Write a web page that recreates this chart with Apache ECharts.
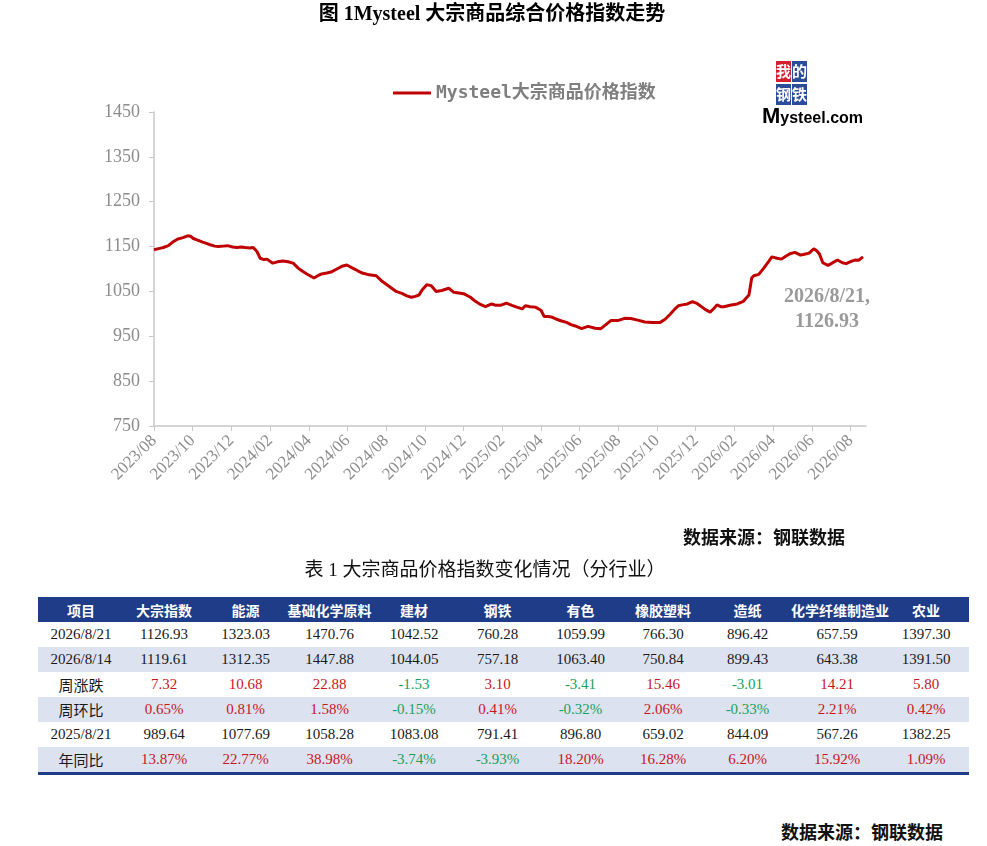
<!DOCTYPE html>
<html>
<head>
<meta charset="utf-8">
<title>Mysteel 大宗商品价格指数</title>
<script src="https://cdn.jsdelivr.net/npm/echarts@6/dist/echarts.min.js"></script>
<style>
body { margin: 0; background: #fff; }
#page { position: relative; width: 987px; height: 846px; overflow: hidden; }
#main { position: absolute; left: 0; top: 0; width: 987px; height: 560px; }
#tblTitle { position: absolute; left: 0; top: 557px; width: 970px; text-align: center;
	font: 19px "Liberation Serif", "Noto Sans CJK SC", serif; line-height: 26px; color: #111; }
#tbl { position: absolute; left: 38px; top: 597px; width: 931px; border-collapse: collapse;
	table-layout: fixed; border-bottom: 3px solid #1f3c88; }
#tbl th { background: #1f3c88; color: #fff; height: 25px; padding: 0; white-space: nowrap; overflow: visible;
	font: bold 14px "Noto Sans CJK SC", sans-serif; }
#tbl td { height: 25px; padding: 0; text-align: center; color: #1a1a1a; white-space: nowrap;
	font: 15px "Liberation Serif", "Noto Sans CJK SC", serif; }
#tbl tr.alt td { background: #dde2f1; }
#src2 { position: absolute; right: 44px; top: 818px; font: bold 18px "Noto Sans CJK SC", sans-serif; color: #111; }
</style>
</head>
<body>
<div id="page">
	<div id="main"></div>
	<div id="tblTitle">表 1 大宗商品价格指数变化情况（分行业）</div>
	<table id="tbl"></table>
	<div id="src2">数据来源：钢联数据</div>
</div>
<script>
// 指数走势
var dates = [
	'2023-08-01', '2023-08-04', '2023-08-10', '2023-08-16', '2023-08-24', '2023-08-31',
	'2023-09-08', '2023-09-16', '2023-09-23', '2023-09-28', '2023-10-02', '2023-10-10',
	'2023-10-17', '2023-10-23', '2023-10-29', '2023-11-05', '2023-11-11', '2023-11-18',
	'2023-11-25', '2023-12-03', '2023-12-10', '2023-12-17', '2023-12-23', '2023-12-30',
	'2024-01-05', '2024-01-11', '2024-01-16', '2024-01-22', '2024-01-27', '2024-02-05',
	'2024-02-12', '2024-02-20', '2024-02-28', '2024-03-07', '2024-03-15', '2024-03-22',
	'2024-03-29', '2024-04-09', '2024-04-15', '2024-04-21', '2024-04-29', '2024-05-07',
	'2024-05-15', '2024-05-23', '2024-05-31', '2024-06-09', '2024-06-17', '2024-06-24',
	'2024-07-05', '2024-07-16', '2024-07-26', '2024-08-06', '2024-08-17', '2024-08-27',
	'2024-09-03', '2024-09-10', '2024-09-16', '2024-09-22', '2024-09-27', '2024-10-04',
	'2024-10-11', '2024-10-19', '2024-10-28', '2024-11-08', '2024-11-16', '2024-12-01',
	'2024-12-12', '2024-12-20', '2024-12-28', '2025-01-05', '2025-01-15', '2025-01-22',
	'2025-01-29', '2025-02-07', '2025-02-15', '2025-02-22', '2025-03-02', '2025-03-07',
	'2025-03-15', '2025-03-23', '2025-04-01', '2025-04-06', '2025-04-12', '2025-04-17',
	'2025-04-25', '2025-05-03', '2025-05-11', '2025-05-18', '2025-05-25', '2025-06-04',
	'2025-06-14', '2025-06-25', '2025-07-04', '2025-07-12', '2025-07-20', '2025-07-31',
	'2025-08-11', '2025-08-21', '2025-09-01', '2025-09-12', '2025-09-24', '2025-10-06',
	'2025-10-14', '2025-10-22', '2025-10-29', '2025-11-04', '2025-11-10', '2025-11-18',
	'2025-11-26', '2025-12-02', '2025-12-07', '2025-12-16', '2025-12-24', '2025-12-30',
	'2026-01-04', '2026-01-10', '2026-01-15', '2026-01-25', '2026-02-05', '2026-02-14',
	'2026-02-22', '2026-02-26', '2026-03-01', '2026-03-09', '2026-03-17', '2026-03-25',
	'2026-03-30', '2026-04-07', '2026-04-14', '2026-04-20', '2026-04-27', '2026-05-05',
	'2026-05-14', '2026-05-20', '2026-05-27', '2026-06-04', '2026-06-09', '2026-06-13',
	'2026-06-18', '2026-06-26', '2026-07-01', '2026-07-11', '2026-07-19', '2026-07-25',
	'2026-08-04', '2026-08-09', '2026-08-14', '2026-08-21'
];
var values = [
	1143, 1145, 1146, 1148, 1152, 1160,
	1167, 1170, 1174, 1173, 1168, 1164,
	1160, 1157, 1154, 1151, 1150, 1151,
	1152, 1149, 1148, 1149, 1148, 1147,
	1148, 1139, 1124, 1121, 1122, 1113,
	1116, 1118, 1116, 1113, 1102, 1095,
	1089, 1080, 1085, 1089, 1091, 1094,
	1100, 1106, 1109, 1102, 1096, 1091,
	1087, 1085, 1072, 1061, 1050, 1045,
	1040, 1037, 1039, 1042, 1054, 1065,
	1063, 1050, 1052, 1057, 1048, 1045,
	1037, 1028, 1021, 1016, 1022, 1019,
	1019, 1024, 1019, 1015, 1011, 1018,
	1016, 1015, 1008, 994, 994, 993,
	988, 984, 981, 976, 973, 967,
	972, 968, 967, 976, 985, 985,
	990, 989.64, 986, 982, 981, 981,
	988, 999, 1010, 1018, 1020, 1022,
	1027, 1024, 1019, 1010, 1004, 1012,
	1020, 1016, 1016, 1019, 1022, 1028,
	1042, 1080, 1085, 1088, 1102, 1117,
	1127, 1124, 1122, 1128, 1134, 1137,
	1131, 1133, 1135, 1145, 1140, 1133,
	1114, 1108, 1112, 1120, 1114, 1112,
	1118, 1120, 1119.61, 1126.93
];
var startYear = 2023, startMonth = 8;
var yMin = 750, yMax = 1450, yStep = 100;
var xStep = 2, xMax = 36.8;
var seriesName = 'Mysteel大宗商品价格指数';

// 表1 数据
var tableHeader = ['项目', '大宗指数', '能源', '基础化学原料', '建材', '钢铁', '有色', '橡胶塑料', '造纸', '化学纤维制造业', '农业'];
var rowNames = ['2026/8/21', '2026/8/14', '周涨跌', '周环比', '2025/8/21', '年同比'];
var rowThisWeek = ['1126.93', '1323.03', '1470.76', '1042.52', '760.28', '1059.99', '766.30', '896.42', '657.59', '1397.30'];
var rowLastWeek = ['1119.61', '1312.35', '1447.88', '1044.05', '757.18', '1063.40', '750.84', '899.43', '643.38', '1391.50'];
var rowWeekChg = ['7.32', '10.68', '22.88', '-1.53', '3.10', '-3.41', '15.46', '-3.01', '14.21', '5.80'];
var rowWeekPct = ['0.65%', '0.81%', '1.58%', '-0.15%', '0.41%', '-0.32%', '2.06%', '-0.33%', '2.21%', '0.42%'];
var rowLastYear = ['989.64', '1077.69', '1058.28', '1083.08', '791.41', '896.80', '659.02', '844.09', '567.26', '1382.25'];
var rowYearPct = ['13.87%', '22.77%', '38.98%', '-3.74%', '-3.93%', '18.20%', '16.28%', '6.20%', '15.92%', '1.09%'];
var colWidths = [86, 80, 83, 85, 84, 83, 83, 82, 87, 92, 86];

function monthOffset(s) {
	var p = s.split('-');
	var y = +p[0], m = +p[1], d = +p[2];
	var dim = new Date(y, m, 0).getDate();
	return (y - startYear) * 12 + (m - startMonth) + (d - 1) / dim;
}

function monthLabel(v) {
	var r = Math.round(v);
	if (Math.abs(v - r) > 1e-6 || r % xStep) return '';
	var k = startMonth - 1 + r;
	var mo = k % 12 + 1;
	return (startYear + Math.floor(k / 12)) + '/' + (mo < 10 ? '0' : '') + mo;
}

var serif = '"Liberation Serif", "Times New Roman", serif';
var lineData = dates.map(function(d, i) { return [monthOffset(d), values[i]]; });
var lastDate = dates[dates.length - 1].split('-');
var lastLabel = lastDate[0] + '/' + (+lastDate[1]) + '/' + (+lastDate[2]) + ',\n' + values[values.length - 1].toFixed(2);

var myChart = echarts.init(document.getElementById('main'));
var option = {
	animation: false,
	title: {
		text: '图 1Mysteel 大宗商品综合价格指数走势',
		left: 487,
		top: 0,
		textAlign: 'center',
		textStyle: {
			fontFamily: '"Liberation Serif", "Noto Sans CJK SC", serif',
			fontWeight: 'bold',
			fontSize: 20,
			color: '#000'
		}
	},
	legend: {
		left: 388,
		top: 79,
		icon: 'rect',
		itemWidth: 38,
		itemHeight: 3,
		data: [seriesName],
		textStyle: {
			fontFamily: '"DejaVu Sans Mono", "Noto Sans CJK SC", monospace',
			fontSize: 18,
			fontWeight: 'bold',
			color: '#7f7f7f'
		}
	},
	grid: { left: 154, top: 112, right: 121, bottom: 134 },
	xAxis: {
		type: 'value',
		min: 0,
		max: xMax,
		interval: xStep,
		splitLine: { show: false },
		axisLine: { lineStyle: { color: '#c8c8c8', width: 1.5 } },
		axisTick: { length: 5, lineStyle: { color: '#c8c8c8' } },
		axisLabel: {
			rotate: 45,
			margin: 12,
			showMaxLabel: false,
			color: '#8c8c8c',
			fontFamily: serif,
			fontSize: 17,
			formatter: monthLabel
		}
	},
	yAxis: {
		type: 'value',
		min: yMin,
		max: yMax,
		interval: yStep,
		splitLine: { show: false },
		axisLine: { show: true, lineStyle: { color: '#c8c8c8', width: 1.5 } },
		axisTick: { show: true, length: 5, lineStyle: { color: '#c8c8c8' } },
		axisLabel: {
			margin: 14,
			color: '#8c8c8c',
			fontFamily: serif,
			fontSize: 18,
			formatter: function(v) { return String(v); }
		}
	},
	series: [{
		name: seriesName,
		type: 'line',
		data: lineData,
		symbol: 'none',
		showSymbol: false,
		lineStyle: { color: '#c00000', width: 3 },
		itemStyle: { color: '#c00000' }
	}],
	graphic: [
		{ type: 'rect', shape: { x: 776, y: 61, width: 15, height: 21 }, style: { fill: '#d3202f' } },
		{ type: 'rect', shape: { x: 792, y: 61, width: 15, height: 21 }, style: { fill: '#2b4c96' } },
		{ type: 'rect', shape: { x: 776, y: 84, width: 15, height: 21 }, style: { fill: '#2b4c96' } },
		{ type: 'rect', shape: { x: 792, y: 84, width: 15, height: 21 }, style: { fill: '#2b4c96' } },
		{ type: 'text', x: 783.5, y: 71.5, style: { text: '我', fill: '#fff', font: 'bold 15px "Noto Sans CJK SC"', textAlign: 'center', textVerticalAlign: 'middle' } },
		{ type: 'text', x: 799.5, y: 71.5, style: { text: '的', fill: '#fff', font: 'bold 15px "Noto Sans CJK SC"', textAlign: 'center', textVerticalAlign: 'middle' } },
		{ type: 'text', x: 783.5, y: 94.5, style: { text: '钢', fill: '#fff', font: 'bold 15px "Noto Sans CJK SC"', textAlign: 'center', textVerticalAlign: 'middle' } },
		{ type: 'text', x: 799.5, y: 94.5, style: { text: '铁', fill: '#fff', font: 'bold 15px "Noto Sans CJK SC"', textAlign: 'center', textVerticalAlign: 'middle' } },
		{
			type: 'text', x: 762, y: 117,
			style: {
				text: '{m|M}{r|ysteel.com}',
				textVerticalAlign: 'middle',
				rich: {
					m: { fontSize: 22, fontWeight: 'bold', fontFamily: '"Liberation Sans", sans-serif', fill: '#000', color: '#000' },
					r: { fontSize: 16, fontWeight: 'bold', fontFamily: '"Liberation Sans", sans-serif', fill: '#000', color: '#000', padding: [4, 0, 0, 0] }
				}
			}
		},
		{
			type: 'text', x: 827, y: 284,
			style: {
				text: lastLabel,
				fill: '#9a9a9a',
				font: 'bold 20px "Liberation Serif", serif',
				lineHeight: 25,
				textAlign: 'center',
				textVerticalAlign: 'top'
			}
		},
		{
			type: 'text', x: 845, y: 537,
			style: {
				text: '数据来源：钢联数据',
				fill: '#111',
				font: 'bold 18px "Noto Sans CJK SC", sans-serif',
				textAlign: 'right',
				textVerticalAlign: 'middle'
			}
		}
	]
};
myChart.setOption(option);

// 表1
var tbl = document.getElementById('tbl');
var html = '<colgroup>' + colWidths.map(function(w) { return '<col style="width:' + w + 'px">'; }).join('') + '</colgroup>';
html += '<tr>' + tableHeader.map(function(h) { return '<th>' + h + '</th>'; }).join('') + '</tr>';
var rows = [rowThisWeek, rowLastWeek, rowWeekChg, rowWeekPct, rowLastYear, rowYearPct];
var signed = [false, false, true, true, false, true];
rows.forEach(function(r, i) {
	html += '<tr' + (i % 2 ? ' class="alt"' : '') + '><td>' + rowNames[i] + '</td>';
	r.forEach(function(v) {
		var c = '';
		if (signed[i]) c = ' style="color:' + (v.charAt(0) === '-' ? '#1aa05a' : '#c8161d') + '"';
		html += '<td' + c + '>' + v + '</td>';
	});
	html += '</tr>';
});
tbl.innerHTML = html;
</script>
</body>
</html>
